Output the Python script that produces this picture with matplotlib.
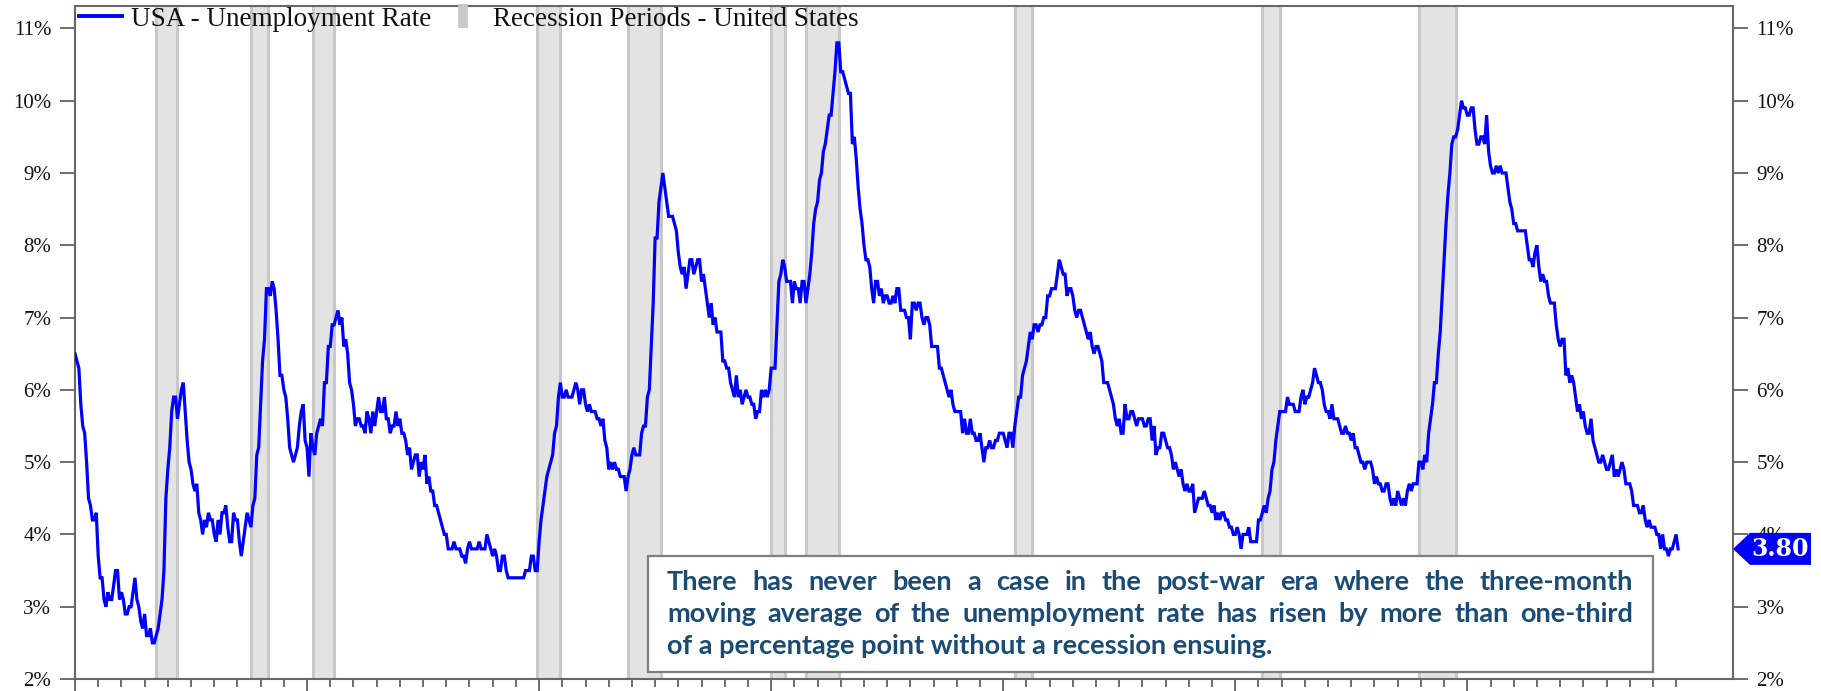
import numpy as np
import matplotlib
matplotlib.use("Agg")
import matplotlib.pyplot as plt
from matplotlib.lines import Line2D
from matplotlib.patches import Rectangle, Polygon

# %%
# monthly US unemployment rate, Jan 1950 - Feb 2019 (%)
rate_1950s = [6.5, 6.4, 6.3, 5.8, 5.5, 5.4, 5.0, 4.5, 4.4, 4.2, 4.2, 4.3,
              3.7, 3.4, 3.4, 3.1, 3.0, 3.2, 3.1, 3.1, 3.3, 3.5, 3.5, 3.1,
              3.2, 3.1, 2.9, 2.9, 3.0, 3.0, 3.2, 3.4, 3.1, 3.0, 2.8, 2.7,
              2.9, 2.6, 2.6, 2.7, 2.5, 2.5, 2.6, 2.7, 2.9, 3.1, 3.5, 4.5,
              4.9, 5.2, 5.7, 5.9, 5.9, 5.6, 5.8, 6.0, 6.1, 5.7, 5.3, 5.0,
              4.9, 4.7, 4.6, 4.7, 4.3, 4.2, 4.0, 4.2, 4.1, 4.3, 4.2, 4.2,
              4.0, 3.9, 4.2, 4.0, 4.3, 4.3, 4.4, 4.1, 3.9, 3.9, 4.3, 4.2,
              4.2, 3.9, 3.7, 3.9, 4.1, 4.3, 4.2, 4.1, 4.4, 4.5, 5.1, 5.2,
              5.8, 6.4, 6.7, 7.4, 7.4, 7.3, 7.5, 7.4, 7.1, 6.7, 6.2, 6.2,
              6.0, 5.9, 5.6, 5.2, 5.1, 5.0, 5.1, 5.2, 5.5, 5.7, 5.8, 5.3]
rate_1960s = [5.2, 4.8, 5.4, 5.2, 5.1, 5.4, 5.5, 5.6, 5.5, 6.1, 6.1, 6.6,
              6.6, 6.9, 6.9, 7.0, 7.1, 6.9, 7.0, 6.6, 6.7, 6.5, 6.1, 6.0,
              5.8, 5.5, 5.6, 5.6, 5.5, 5.5, 5.4, 5.7, 5.6, 5.4, 5.7, 5.5,
              5.7, 5.9, 5.7, 5.7, 5.9, 5.6, 5.6, 5.4, 5.5, 5.5, 5.7, 5.5,
              5.6, 5.4, 5.4, 5.3, 5.1, 5.2, 4.9, 5.0, 5.1, 5.1, 4.8, 5.0,
              4.9, 5.1, 4.7, 4.8, 4.6, 4.6, 4.4, 4.4, 4.3, 4.2, 4.1, 4.0,
              4.0, 3.8, 3.8, 3.8, 3.9, 3.8, 3.8, 3.8, 3.7, 3.7, 3.6, 3.8,
              3.9, 3.8, 3.8, 3.8, 3.8, 3.9, 3.8, 3.8, 3.8, 4.0, 3.9, 3.8,
              3.7, 3.8, 3.7, 3.5, 3.5, 3.7, 3.7, 3.5, 3.4, 3.4, 3.4, 3.4,
              3.4, 3.4, 3.4, 3.4, 3.4, 3.5, 3.5, 3.5, 3.7, 3.7, 3.5, 3.5]
rate_1970s = [3.9, 4.2, 4.4, 4.6, 4.8, 4.9, 5.0, 5.1, 5.4, 5.5, 5.9, 6.1,
              5.9, 5.9, 6.0, 5.9, 5.9, 5.9, 6.0, 6.1, 6.0, 5.8, 6.0, 6.0,
              5.8, 5.7, 5.8, 5.7, 5.7, 5.7, 5.6, 5.6, 5.5, 5.6, 5.3, 5.2,
              4.9, 5.0, 4.9, 5.0, 4.9, 4.9, 4.8, 4.8, 4.8, 4.6, 4.8, 4.9,
              5.1, 5.2, 5.1, 5.1, 5.1, 5.4, 5.5, 5.5, 5.9, 6.0, 6.6, 7.2,
              8.1, 8.1, 8.6, 8.8, 9.0, 8.8, 8.6, 8.4, 8.4, 8.4, 8.3, 8.2,
              7.9, 7.7, 7.6, 7.7, 7.4, 7.6, 7.8, 7.8, 7.6, 7.7, 7.8, 7.8,
              7.5, 7.6, 7.4, 7.2, 7.0, 7.2, 6.9, 7.0, 6.8, 6.8, 6.8, 6.4,
              6.4, 6.3, 6.3, 6.1, 6.0, 5.9, 6.2, 5.9, 6.0, 5.8, 5.9, 6.0,
              5.9, 5.9, 5.8, 5.8, 5.6, 5.7, 5.7, 6.0, 5.9, 6.0, 5.9, 6.0]
rate_1980s = [6.3, 6.3, 6.3, 6.9, 7.5, 7.6, 7.8, 7.7, 7.5, 7.5, 7.5, 7.2,
              7.5, 7.4, 7.4, 7.2, 7.5, 7.5, 7.2, 7.4, 7.6, 7.9, 8.3, 8.5,
              8.6, 8.9, 9.0, 9.3, 9.4, 9.6, 9.8, 9.8, 10.1, 10.4, 10.8, 10.8,
              10.4, 10.4, 10.3, 10.2, 10.1, 10.1, 9.4, 9.5, 9.2, 8.8, 8.5, 8.3,
              8.0, 7.8, 7.8, 7.7, 7.4, 7.2, 7.5, 7.5, 7.3, 7.4, 7.2, 7.3,
              7.3, 7.2, 7.2, 7.3, 7.2, 7.4, 7.4, 7.1, 7.1, 7.1, 7.0, 7.0,
              6.7, 7.2, 7.2, 7.1, 7.2, 7.2, 7.0, 6.9, 7.0, 7.0, 6.9, 6.6,
              6.6, 6.6, 6.6, 6.3, 6.3, 6.2, 6.1, 6.0, 5.9, 6.0, 5.8, 5.7,
              5.7, 5.7, 5.7, 5.4, 5.6, 5.4, 5.4, 5.6, 5.4, 5.4, 5.3, 5.3,
              5.4, 5.2, 5.0, 5.2, 5.2, 5.3, 5.2, 5.2, 5.3, 5.3, 5.4, 5.4]
rate_1990s = [5.4, 5.3, 5.2, 5.4, 5.4, 5.2, 5.5, 5.7, 5.9, 5.9, 6.2, 6.3,
              6.4, 6.6, 6.8, 6.7, 6.9, 6.9, 6.8, 6.9, 6.9, 7.0, 7.0, 7.3,
              7.3, 7.4, 7.4, 7.4, 7.6, 7.8, 7.7, 7.6, 7.6, 7.3, 7.4, 7.4,
              7.3, 7.1, 7.0, 7.1, 7.1, 7.0, 6.9, 6.8, 6.7, 6.8, 6.6, 6.5,
              6.6, 6.6, 6.5, 6.4, 6.1, 6.1, 6.1, 6.0, 5.9, 5.8, 5.6, 5.5,
              5.6, 5.4, 5.4, 5.8, 5.6, 5.6, 5.7, 5.7, 5.6, 5.5, 5.6, 5.6,
              5.6, 5.5, 5.5, 5.6, 5.6, 5.3, 5.5, 5.1, 5.2, 5.2, 5.4, 5.4,
              5.3, 5.2, 5.2, 5.1, 4.9, 5.0, 4.9, 4.8, 4.9, 4.7, 4.6, 4.7,
              4.6, 4.6, 4.7, 4.3, 4.4, 4.5, 4.5, 4.5, 4.6, 4.5, 4.4, 4.4,
              4.3, 4.4, 4.2, 4.3, 4.2, 4.3, 4.3, 4.2, 4.2, 4.1, 4.1, 4.0]
rate_2000s = [4.0, 4.1, 4.0, 3.8, 4.0, 4.0, 4.0, 4.1, 3.9, 3.9, 3.9, 3.9,
              4.2, 4.2, 4.3, 4.4, 4.3, 4.5, 4.6, 4.9, 5.0, 5.3, 5.5, 5.7,
              5.7, 5.7, 5.7, 5.9, 5.8, 5.8, 5.8, 5.7, 5.7, 5.7, 5.9, 6.0,
              5.8, 5.9, 5.9, 6.0, 6.1, 6.3, 6.2, 6.1, 6.1, 6.0, 5.8, 5.7,
              5.7, 5.6, 5.8, 5.6, 5.6, 5.6, 5.5, 5.4, 5.4, 5.5, 5.4, 5.4,
              5.3, 5.4, 5.2, 5.2, 5.1, 5.0, 5.0, 4.9, 5.0, 5.0, 5.0, 4.9,
              4.7, 4.8, 4.7, 4.7, 4.6, 4.6, 4.7, 4.7, 4.5, 4.4, 4.5, 4.4,
              4.6, 4.5, 4.4, 4.5, 4.4, 4.6, 4.7, 4.6, 4.7, 4.7, 4.7, 5.0,
              5.0, 4.9, 5.1, 5.0, 5.4, 5.6, 5.8, 6.1, 6.1, 6.5, 6.8, 7.3,
              7.8, 8.3, 8.7, 9.0, 9.4, 9.5, 9.5, 9.6, 9.8, 10.0, 9.9, 9.9]
rate_2010s = [9.8, 9.8, 9.9, 9.9, 9.6, 9.4, 9.4, 9.5, 9.5, 9.4, 9.8, 9.3,
              9.1, 9.0, 9.0, 9.1, 9.0, 9.1, 9.0, 9.0, 9.0, 8.8, 8.6, 8.5,
              8.3, 8.3, 8.2, 8.2, 8.2, 8.2, 8.2, 8.0, 7.8, 7.8, 7.7, 7.9,
              8.0, 7.7, 7.5, 7.6, 7.5, 7.5, 7.3, 7.2, 7.2, 7.2, 6.9, 6.7,
              6.6, 6.7, 6.7, 6.2, 6.3, 6.1, 6.2, 6.1, 5.9, 5.7, 5.8, 5.6,
              5.7, 5.5, 5.4, 5.4, 5.6, 5.3, 5.2, 5.1, 5.0, 5.0, 5.1, 5.0,
              4.9, 4.9, 5.0, 5.1, 4.8, 4.9, 4.8, 4.9, 5.0, 4.9, 4.7, 4.7,
              4.7, 4.6, 4.4, 4.4, 4.4, 4.3, 4.3, 4.4, 4.2, 4.1, 4.2, 4.1,
              4.1, 4.1, 4.0, 4.0, 3.8, 4.0, 3.8, 3.8, 3.7, 3.8, 3.8, 3.9,
              4.0, 3.8]
start_year = 1950

# NBER recessions (year, month) peak -> trough
rec_start = [(1953, 7), (1957, 8), (1960, 4), (1969, 12), (1973, 11),
             (1980, 1), (1981, 7), (1990, 7), (2001, 3), (2007, 12)]
rec_end = [(1954, 5), (1958, 4), (1961, 2), (1970, 11), (1975, 3),
           (1980, 7), (1982, 11), (1991, 3), (2001, 11), (2009, 6)]

y_ticks = [2, 3, 4, 5, 6, 7, 8, 9, 10, 11]
last_label = "3.80"
note_lines = ["There has never been a case in the post-war era where the three-month",
              "moving average of the unemployment rate has risen by more than one-third",
              "of a percentage point without a recession ensuing."]

# %%
rate = np.array(rate_1950s + rate_1960s + rate_1970s + rate_1980s
                + rate_1990s + rate_2000s + rate_2010s)
dates = start_year + np.arange(len(rate)) / 12.0

W, H = 1821, 691
fig = plt.figure(figsize=(W / 100, H / 100), dpi=100)
ax_l, ax_r, ax_b, ax_t = 75, 1733, 679, 6   # axes box in pixels (from top-left)
ax = fig.add_axes([ax_l / W, 1 - ax_b / H, (ax_r - ax_l) / W, (ax_b - ax_t) / H])

ymin, ymax = 2, 11.31
ax.set_xlim(1950, 2021.45)
ax.set_ylim(ymin, ymax)

shade_fill = "#e3e3e3"
shade_edge = "#c8c8c8"
for (sy, sm), (ey, em) in zip(rec_start, rec_end):
    x0 = sy + (sm - 1) / 12
    x1 = ey + em / 12
    ax.axvspan(x0, x1, color=shade_fill, lw=0, zorder=1)
    ax.vlines([x0, x1], ymin, ymax, color=shade_edge, lw=2.2, zorder=1.2)

ax.plot(dates, rate, color="#0000ff", lw=2.3, zorder=3, solid_joinstyle="miter")

# axes styling
for s in ax.spines.values():
    s.set_color("#666666")
    s.set_linewidth(1.5)
ax.set_yticks(y_ticks)
ax.set_yticklabels([f"{v}%" for v in y_ticks])
ax.set_xticks(range(1950, 2011, 10))
ax.set_xticks([y for y in range(1951, 2020) if y % 10], minor=True)
ax.tick_params(axis="x", which="both", labelbottom=False, color="#555555", width=1.2)
ax.tick_params(axis="x", which="major", length=9)
ax.tick_params(axis="x", which="minor", length=6)
ax.tick_params(axis="y", left=True, right=True, labelleft=True, labelright=True,
               length=11, width=1.2, color="#555555", pad=6, labelsize=15)
for lab in ax.get_yticklabels():
    lab.set_fontfamily("Liberation Serif")
    lab.set_color("#111111")

# legend
handles = [Line2D([], [], color="#0000ff", lw=2.8),
           Line2D([], [], ls="none", marker="|", ms=17, mew=7, color=shade_edge)]
leg = ax.legend(handles, ["USA - Unemployment Rate", "Recession Periods - United States"],
                ncol=2, loc="upper left", bbox_to_anchor=(0.0, 1.005), frameon=False,
                prop={"family": "Liberation Serif", "size": 19.5},
                handlelength=1.6, handletextpad=0.3, columnspacing=0.4,
                borderaxespad=0.0, borderpad=0.15)
for t in leg.get_texts():
    t.set_color("#111111")

# last value tag on right axis
y_last = rate[-1]
yp = ax_b - (y_last - ymin) / (ymax - ymin) * (ax_b - ax_t)
tag = [(ax_r, yp), (ax_r + 17, yp - 16), (1811, yp - 16), (1811, yp + 16), (ax_r + 17, yp + 16)]
fig.add_artist(Polygon([(x / W, 1 - y / H) for x, y in tag], closed=True,
                       transform=fig.transFigure, facecolor="#0000ff",
                       edgecolor="none", zorder=10))
fig.text((ax_r + 17 + 1811) / 2 / W, 1 - yp / H, last_label, color="white",
         fontsize=17, fontweight="bold", family="DejaVu Serif",
         ha="center", va="center", zorder=11)

# note box
bx0, by0, bx1, by1 = 648, 556, 1653, 672
fig.add_artist(Rectangle((bx0 / W, 1 - by1 / H), (bx1 - bx0) / W, (by1 - by0) / H,
                         transform=fig.transFigure, facecolor="white",
                         edgecolor="#7f7f7f", lw=1.6, zorder=8))

note_color = "#1a4b74"
note_kw = dict(family="Lato", fontweight="bold", fontsize=19.5, color=note_color,
               va="baseline", ha="left", zorder=9)
tx0, tx1 = 667, 1633
baselines = [590, 622, 654]
renderer = fig.canvas.get_renderer()
for i, (line, base) in enumerate(zip(note_lines, baselines)):
    if i == len(note_lines) - 1:
        fig.text(tx0 / W, 1 - base / H, line, **note_kw)
        continue
    # justified line: spread the words over the full width
    words = line.split(" ")
    texts = [fig.text(0, 1 - base / H, w, **note_kw) for w in words]
    widths = [t.get_window_extent(renderer).width for t in texts]
    gap = (tx1 - tx0 - sum(widths)) / (len(words) - 1)
    x = tx0
    for t, w in zip(texts, widths):
        t.set_x(x / W)
        x += w + gap

fig.savefig("out.png", dpi=100)
